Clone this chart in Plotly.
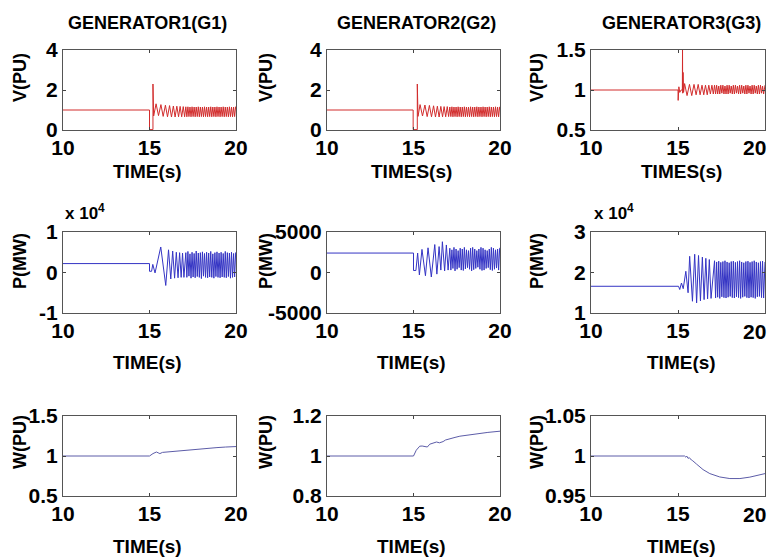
import plotly.graph_objects as go
from plotly.subplots import make_subplots

# ---------------- data ----------------
# shared extrema times for the voltage oscillations (early part)
tV_early = [15.38, 15.52, 15.66, 15.79, 15.92, 16.04, 16.16, 16.27, 16.38, 16.48,
            16.58, 16.68, 16.77, 16.86, 16.95, 17.03]
# shared extrema times of the dense oscillation tail (all V and P series)
t_tail = [17.10, 17.16, 17.22, 17.28, 17.34, 17.40, 17.46, 17.52, 17.58, 17.64,
          17.70, 17.76, 17.82, 17.88, 17.94, 18.00, 18.06, 18.12, 18.18, 18.24,
          18.30, 18.36, 18.42, 18.48, 18.54, 18.60, 18.66, 18.72, 18.78, 18.84,
          18.90, 18.96, 19.02, 19.08, 19.14, 19.20, 19.26, 19.32, 19.38, 19.44,
          19.50, 19.56, 19.62, 19.68, 19.74, 19.80, 19.86, 19.92, 19.98]

# --- Voltage G1 ---
v1_pre_t = [10.0, 15.0, 15.0, 15.2, 15.2, 15.24]
v1_pre_v = [1.0, 1.0, 0.02, 0.02, 2.3, 0.70]
v1_early = [1.31, 0.72, 1.27, 0.68, 1.24, 0.66, 1.22, 0.65, 1.20, 0.65, 1.19, 0.66,
            1.18, 0.66, 1.17, 0.66]
v1_tail = [1.16, 0.66, 1.16, 0.67, 1.15, 0.66, 1.16, 0.67, 1.15, 0.66,
           1.15, 0.67, 1.16, 0.66, 1.15, 0.67, 1.15, 0.66, 1.16, 0.67,
           1.15, 0.66, 1.15, 0.67, 1.16, 0.66, 1.15, 0.67, 1.15, 0.66,
           1.16, 0.67, 1.15, 0.66, 1.15, 0.67, 1.16, 0.66, 1.15, 0.67,
           1.15, 0.66, 1.16, 0.67, 1.15, 0.66, 1.15, 0.67, 1.16]

# --- Voltage G2 ---
v2_pre_t = [10.0, 14.98, 14.98, 15.22, 15.22, 15.26]
v2_pre_v = [1.0, 1.0, 0.02, 0.02, 2.3, 0.68]
v2_early = [1.27, 0.70, 1.25, 0.67, 1.23, 0.66, 1.21, 0.65, 1.19, 0.65, 1.18, 0.66,
            1.17, 0.66, 1.17, 0.67]
v2_tail = [1.15, 0.67, 1.16, 0.66, 1.15, 0.67, 1.15, 0.66, 1.16, 0.67,
           1.15, 0.66, 1.15, 0.67, 1.16, 0.66, 1.15, 0.67, 1.15, 0.66,
           1.16, 0.67, 1.15, 0.66, 1.15, 0.67, 1.16, 0.66, 1.15, 0.67,
           1.15, 0.66, 1.16, 0.67, 1.15, 0.66, 1.15, 0.67, 1.16, 0.66,
           1.15, 0.67, 1.15, 0.66, 1.16, 0.67, 1.15, 0.66, 1.15]

# --- Voltage G3 ---
v3_pre_t = [10.0, 15.0, 15.01, 15.05, 15.10, 15.18, 15.25, 15.26, 15.27, 15.29, 15.32]
v3_pre_v = [1.0, 1.0, 0.87, 1.04, 0.97, 1.0, 1.0, 1.5, 0.96, 1.22, 0.97]
v3_early = [1.08, 0.93, 1.07, 0.93, 1.07, 0.94, 1.07, 0.94, 1.06, 0.94, 1.06, 0.94,
            1.06, 0.95, 1.06, 0.95]
v3_tail = [1.06, 0.95, 1.06, 0.95, 1.05, 0.95, 1.06, 0.96, 1.06, 0.95,
           1.05, 0.95, 1.06, 0.95, 1.06, 0.96, 1.05, 0.95, 1.06, 0.95,
           1.06, 0.96, 1.05, 0.95, 1.06, 0.95, 1.06, 0.96, 1.05, 0.95,
           1.06, 0.95, 1.06, 0.96, 1.05, 0.95, 1.06, 0.95, 1.06, 0.96,
           1.05, 0.95, 1.06, 0.95, 1.06, 0.96, 1.05, 0.95, 1.06]

# --- Power G1 (MW) ---
p1_pre_t = [10.0, 15.0, 15.0, 15.12, 15.19, 15.32, 15.65, 15.94, 16.10, 16.23, 16.34,
            16.45, 16.55, 16.65, 16.74, 16.83, 16.91, 16.99]
p1_pre_v = [2200, 2200, 300, 300, 2000, -100, 6300, -3200, 5600, -1600, 5300,
            -1400, 5000, -1300, 4900, -1200, 4800, -1200]
p1_tail = [4900, -1200, 5200, -900, 4600, -1400, 5000, -1100, 4700, -1300,
           5300, -1000, 4800, -1200, 4900, -1500, 5100, -900, 4700, -1200,
           5000, -1300, 4800, -1100, 5200, -1200, 4600, -1400, 4900, -1000,
           5100, -1200, 4800, -1300, 5000, -1100, 4700, -1200, 5200, -1300,
           4900, -1000, 4800, -1400, 5000, -1200, 4700, -1100, 4900]

# --- Power G2 (MW) ---
p2_pre_t = [10.0, 15.0, 15.0, 15.14, 15.24, 15.34, 15.49, 15.69, 15.84, 16.03, 16.23,
            16.35, 16.48, 16.58, 16.67, 16.80, 16.90, 17.00]
p2_pre_v = [2400, 2400, 250, 250, 2400, -300, 2850, -400, 3050, -550, 3450,
            -200, 3200, 300, 3800, 200, 3400, 300]
p2_tail = [3000, 300, 2800, 500, 3100, 200, 2900, 400, 2700, 600,
           3000, 300, 2900, 250, 3100, 450, 2800, 600, 2700, 400,
           3000, 200, 3100, 350, 2900, 500, 2700, 650, 2900, 400,
           3100, 250, 3000, 300, 2800, 500, 2700, 600, 2900, 350,
           3100, 250, 3000, 400, 2800, 550, 2900, 300, 3000]

# --- Power G3 (MW) ---
p3_pre_t = [10.0, 15.03, 15.10, 15.20, 15.30, 15.45, 15.58, 15.67, 15.83, 15.96,
            16.07, 16.18, 16.29, 16.40, 16.50, 16.60, 16.70, 16.80, 16.90]
p3_pre_v = [16600, 16600, 15800, 17400, 16000, 20300, 15000, 24000, 12900, 24500,
            12500, 24200, 13000, 23800, 13300, 23500, 13500, 23200, 13600]
p3_tail = [22900, 13700, 22600, 13900, 22800, 13600, 22500, 14000, 22700, 13800,
           22900, 13700, 22600, 13900, 22400, 14100, 22700, 13800, 22800, 13700,
           22500, 14000, 22700, 13800, 22900, 13600, 22600, 13900, 22400, 14100,
           22700, 13800, 22800, 13700, 22500, 13900, 22700, 13800, 22900, 13600,
           22600, 14000, 22400, 14100, 22700, 13800, 22800, 13700, 22600]

# --- Speed (PU) ---
w1_t = [10.0, 15.0, 15.2, 15.4, 15.5, 15.6, 15.75, 16.0, 16.4, 16.8, 17.2, 17.9,
        18.5, 18.9, 19.4, 19.87, 20.0]
w1_v = [1.0, 1.0, 1.03, 1.05, 1.04, 1.03, 1.045, 1.05, 1.06, 1.07, 1.08, 1.09,
        1.10, 1.105, 1.112, 1.12, 1.118]
w2_t = [10.0, 15.0, 15.16, 15.25, 15.36, 15.5, 15.69, 15.8, 15.94, 16.1, 16.33,
        16.5, 16.71, 16.85, 17.1, 17.4, 17.68, 18.2, 18.65, 19.3, 20.0]
w2_v = [1.0, 1.0, 1.029, 1.04, 1.049, 1.05, 1.049, 1.045, 1.059, 1.062, 1.07,
        1.066, 1.072, 1.08, 1.087, 1.093, 1.099, 1.106, 1.112, 1.118, 1.124]
w3_t = [10.0, 15.38, 15.45, 15.5, 15.58, 15.65, 15.77, 15.85, 16.06, 16.44, 16.83,
        17.4, 17.98, 18.56, 19.13, 19.6, 20.0]
w3_v = [1.0, 1.0, 0.9985, 1.0, 0.997, 0.998, 0.995, 0.994, 0.990, 0.983, 0.978,
        0.9738, 0.9718, 0.9718, 0.9736, 0.9755, 0.978]

titles = ["GENERATOR1(G1)", "GENERATOR2(G2)", "GENERATOR3(G3)"]
xlabels = [["TIME(s)", "TIMES(s)", "TIMES(s)"],
           ["TIME(s)", "TIME(s)", "TIME(s)"],
           ["TIME(s)", "TIME(s)", "TIME(s)"]]
ylabels = ["V(PU)", "P(MW)", "W(PU)"]
x_ticks = [10, 15, 20]
x_ticktext = ["10", "15", "20"]
y_ranges = [[[0, 4], [0, 4], [0.5, 1.5]],
            [[-10000, 10000], [-5000, 5000], [10000, 30000]],
            [[0.5, 1.5], [0.8, 1.2], [0.95, 1.05]]]
y_tickvals = [[[0, 2, 4], [0, 2, 4], [0.5, 1, 1.5]],
              [[-10000, 0, 10000], [-5000, 0, 5000], [10000, 20000, 30000]],
              [[0.5, 1, 1.5], [0.8, 1, 1.2], [0.95, 1, 1.05]]]
y_ticktext = [[["0", "2", "4"], ["0", "2", "4"], ["0.5", "1", "1.5"]],
              [["-1", "0", "1"], ["-5000", "0", "5000"], ["1", "2", "3"]],
              [["0.5", "1", "1.5"], ["0.8", "1", "1.2"], ["0.95", "1", "1.05"]]]

# ---------------- figure ----------------
RED = "#d22c2c"
BLUE = "#3434c4"
WCOL = "#5c5ca8"
FONT = "Liberation Sans, Arial, sans-serif"

fig = make_subplots(rows=3, cols=3)

v_series = [(v1_pre_t, v1_pre_v, v1_early, v1_tail),
            (v2_pre_t, v2_pre_v, v2_early, v2_tail),
            (v3_pre_t, v3_pre_v, v3_early, v3_tail)]
for c, (pt, pv, ev, tv) in enumerate(v_series, start=1):
    fig.add_trace(go.Scatter(x=pt + tV_early + t_tail + [20.0],
                             y=pv + ev + tv + [tv[-1]],
                             mode="lines", line=dict(color=RED, width=1),
                             showlegend=False), row=1, col=c)

p_series = [(p1_pre_t, p1_pre_v, p1_tail),
            (p2_pre_t, p2_pre_v, p2_tail),
            (p3_pre_t, p3_pre_v, p3_tail)]
for c, (pt, pv, tv) in enumerate(p_series, start=1):
    fig.add_trace(go.Scatter(x=pt + t_tail + [20.0], y=pv + tv + [tv[-1]],
                             mode="lines", line=dict(color=BLUE, width=1),
                             showlegend=False), row=2, col=c)

w_series = [(w1_t, w1_v), (w2_t, w2_v), (w3_t, w3_v)]
for c, (wt, wv) in enumerate(w_series, start=1):
    fig.add_trace(go.Scatter(x=wt, y=wv, mode="lines",
                             line=dict(color=WCOL, width=1), showlegend=False),
                  row=3, col=c)

# the page shows the figure with an 8px body margin; positions below are
# window pixels, converted to figure-paper fractions
OFF = 8
W, H = 777 - OFF, 558 - OFF


def px_x(p):
    return (p - OFF) / W


def px_y(p):
    return 1 - (p - OFF) / H


col_px = [(63, 236), (327, 500), (591, 765)]
row_px = [(50, 130), (232, 313), (416, 496)]

tickfont = dict(family=FONT, size=21, color="black", weight="bold")
for r in range(3):
    for c in range(3):
        idx = r * 3 + c + 1
        xa = "xaxis" if idx == 1 else f"xaxis{idx}"
        ya = "yaxis" if idx == 1 else f"yaxis{idx}"
        x0, x1 = col_px[c]
        y0, y1 = row_px[r]
        # the last column's "20" sits at the window edge; it is drawn as an
        # annotation kept inside the window instead of as a tick label
        xt = x_ticktext if c < 2 else x_ticktext[:2] + [""]
        fig.layout[xa].update(
            domain=[px_x(x0), px_x(x1)], range=[10, 20], tickvals=x_ticks,
            ticktext=xt,
            ticks="inside", ticklen=3, tickcolor="#444", showline=True,
            linecolor="#555", linewidth=1, mirror="ticks", showgrid=False,
            zeroline=False, tickfont=tickfont, ticklabelstandoff=-1,
            automargin=False)
        fig.layout[ya].update(
            domain=[px_y(y1), px_y(y0)], range=y_ranges[r][c],
            tickvals=y_tickvals[r][c], ticktext=y_ticktext[r][c],
            ticks="inside", ticklen=3, tickcolor="#444", showline=True,
            linecolor="#555", linewidth=1, mirror="ticks", showgrid=False,
            zeroline=False, tickfont=tickfont, ticklabelstandoff=0,
            automargin=False)

ann = []
for r in range(3):
    ann.append(dict(text=x_ticktext[2], x=px_x(768), y=px_y(row_px[r][1] + 18),
                    xref="paper", yref="paper", showarrow=False, font=tickfont,
                    xanchor="right", yanchor="middle"))

title_font = dict(family=FONT, size=18, color="black", weight="bold")
label_font = dict(family=FONT, size=19, color="black", weight="bold")
ylabel_font = dict(family=FONT, size=18, color="black", weight="bold")
title_x = [147, 416, 681]
for c in range(3):
    ann.append(dict(text=titles[c], x=px_x(title_x[c]), y=px_y(23), xref="paper",
                    yref="paper", showarrow=False, font=title_font,
                    xanchor="center", yanchor="middle"))
xl_y = [172, 362, 546]
xl_x = [147, 411, 681]
for r in range(3):
    for c in range(3):
        ann.append(dict(text=xlabels[r][c], x=px_x(xl_x[c]), y=px_y(xl_y[r]),
                        xref="paper", yref="paper", showarrow=False,
                        font=label_font, xanchor="center", yanchor="middle"))
yl_x = [20, 266, 537]
yl_y = [78, 261, 442]
for r in range(3):
    for c in range(3):
        ann.append(dict(text=ylabels[r], x=px_x(yl_x[c]), y=px_y(yl_y[r]),
                        xref="paper", yref="paper", showarrow=False,
                        font=ylabel_font, textangle=-90,
                        xanchor="center", yanchor="middle"))
exp_font = dict(family=FONT, size=17, color="black", weight="bold")
for xpx in [63, 592]:
    ann.append(dict(text="x 10<sup>4</sup>", x=px_x(xpx), y=px_y(225),
                    xref="paper", yref="paper", showarrow=False, font=exp_font,
                    xanchor="left", yanchor="bottom"))

fig.update_layout(width=W, height=H, margin=dict(l=0, r=0, t=0, b=0),
                  paper_bgcolor="white", plot_bgcolor="white",
                  annotations=ann, showlegend=False)

fig.write_html("out.html")
